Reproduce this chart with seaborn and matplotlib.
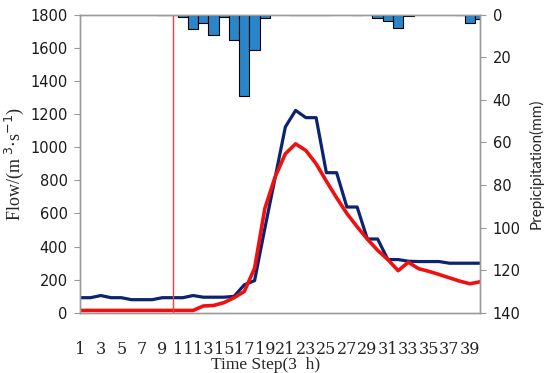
import matplotlib
matplotlib.use("Agg")
import matplotlib.pyplot as plt
import pandas as pd
import seaborn as sns

# time steps (3 h each)
time_step = list(range(1, 41))

# observed flow, m3/s
observed = [92, 92, 105, 92, 92, 80, 80, 80, 92, 92,
            92, 105, 95, 95, 95, 100, 170, 195, 510, 815,
            1122, 1222, 1178, 1178, 846, 846, 639, 639, 446, 446,
            322, 322, 312, 310, 310, 310, 300, 300, 300, 300]

# simulated flow, m3/s
simulated = [15, 15, 15, 15, 15, 15, 15, 15, 15, 15,
             15, 15, 42, 45, 62, 92, 130, 270, 630, 820,
             960, 1020, 980, 900, 795, 695, 600, 520, 445, 378,
             322, 255, 306, 267, 251, 232, 212, 192, 176, 188]

# precipitation, mm
precip = [0, 0, 0, 0, 0, 0, 0, 0, 0.3, 0.3,
          1.0, 6.6, 4.2, 9.4, 1.0, 11.9, 38.3, 16.4, 1.5, 0,
          0, 0.3, 0.3, 0.3, 0.3, 0, 0, 0.3, 0, 1.5,
          3.0, 6.5, 0.5, 0, 0, 0, 0, 0.3, 3.9, 2.3]

warmup_end = 10

NAVY = "#0b2370"
RED = "#f01010"
BAR = "#2a85c9"
GRAY = "#9a9a9a"

sns.set_style("white")

fig, ax = plt.subplots(figsize=(5.5, 3.73), dpi=100)
fig.subplots_adjust(left=0.146, right=0.873, top=0.961, bottom=0.161)

flow = pd.DataFrame({"step": time_step, "obs": observed, "sim": simulated})
sns.lineplot(data=flow, x="step", y="obs", color=NAVY, linewidth=2.3, ax=ax)
sns.lineplot(data=flow, x="step", y="sim", color=RED, linewidth=2.6, ax=ax)
ax.axvline(warmup_end, color="#ff3a3a", linewidth=1.0)

rain = pd.DataFrame({"step": time_step, "p": precip})
rain = rain[rain["p"] > 0]
ax2 = ax.twinx()
sns.barplot(data=rain, x="step", y="p", native_scale=True, width=1,
            color=BAR, saturation=1, edgecolor="black", linewidth=0.8, ax=ax2)
ax2.set_ylim(140, 0)
ax2.set_yticks(range(0, 141, 20))

ax.set_ylim(0, 1800)
ax.set_yticks(range(0, 1801, 200))
ax.set_xlim(1, 40)
ax.set_xticks(time_step)
ax.set_xticklabels([str(t) if t % 2 == 1 else "" for t in time_step],
                   family="DejaVu Serif", fontsize=11.5)

for a in (ax, ax2):
    for s in a.spines.values():
        s.set_color(GRAY)
        s.set_linewidth(1.0)

ax.tick_params(axis="x", direction="out", length=4, color=GRAY, pad=16)
ax.tick_params(axis="y", direction="out", length=4, color=GRAY, labelsize=10.5, pad=5)
ax2.tick_params(axis="y", direction="out", length=4, color=GRAY, labelsize=10.5, pad=5)
for lab in ax.get_yticklabels() + ax2.get_yticklabels():
    lab.set_family("DejaVu Sans")
    lab.set_color("#1a1a1a")

ax.set_xlabel("Time Step(3  h)", family="Liberation Serif", fontsize=12.5)
ax.xaxis.set_label_coords(0.463, -0.148)
ax.set_ylabel(r"Flow/(m$^{\ 3}$$\cdot$s$^{-1}$)", family="Liberation Serif",
              fontsize=13)
ax.yaxis.set_label_coords(-0.135, 0.5)
ax2.set_ylabel("Prepicipitation(mm)", family="Lato", fontsize=11)
ax2.yaxis.set_label_coords(1.122, 0.5)

fig.savefig("out.png", dpi=100)
